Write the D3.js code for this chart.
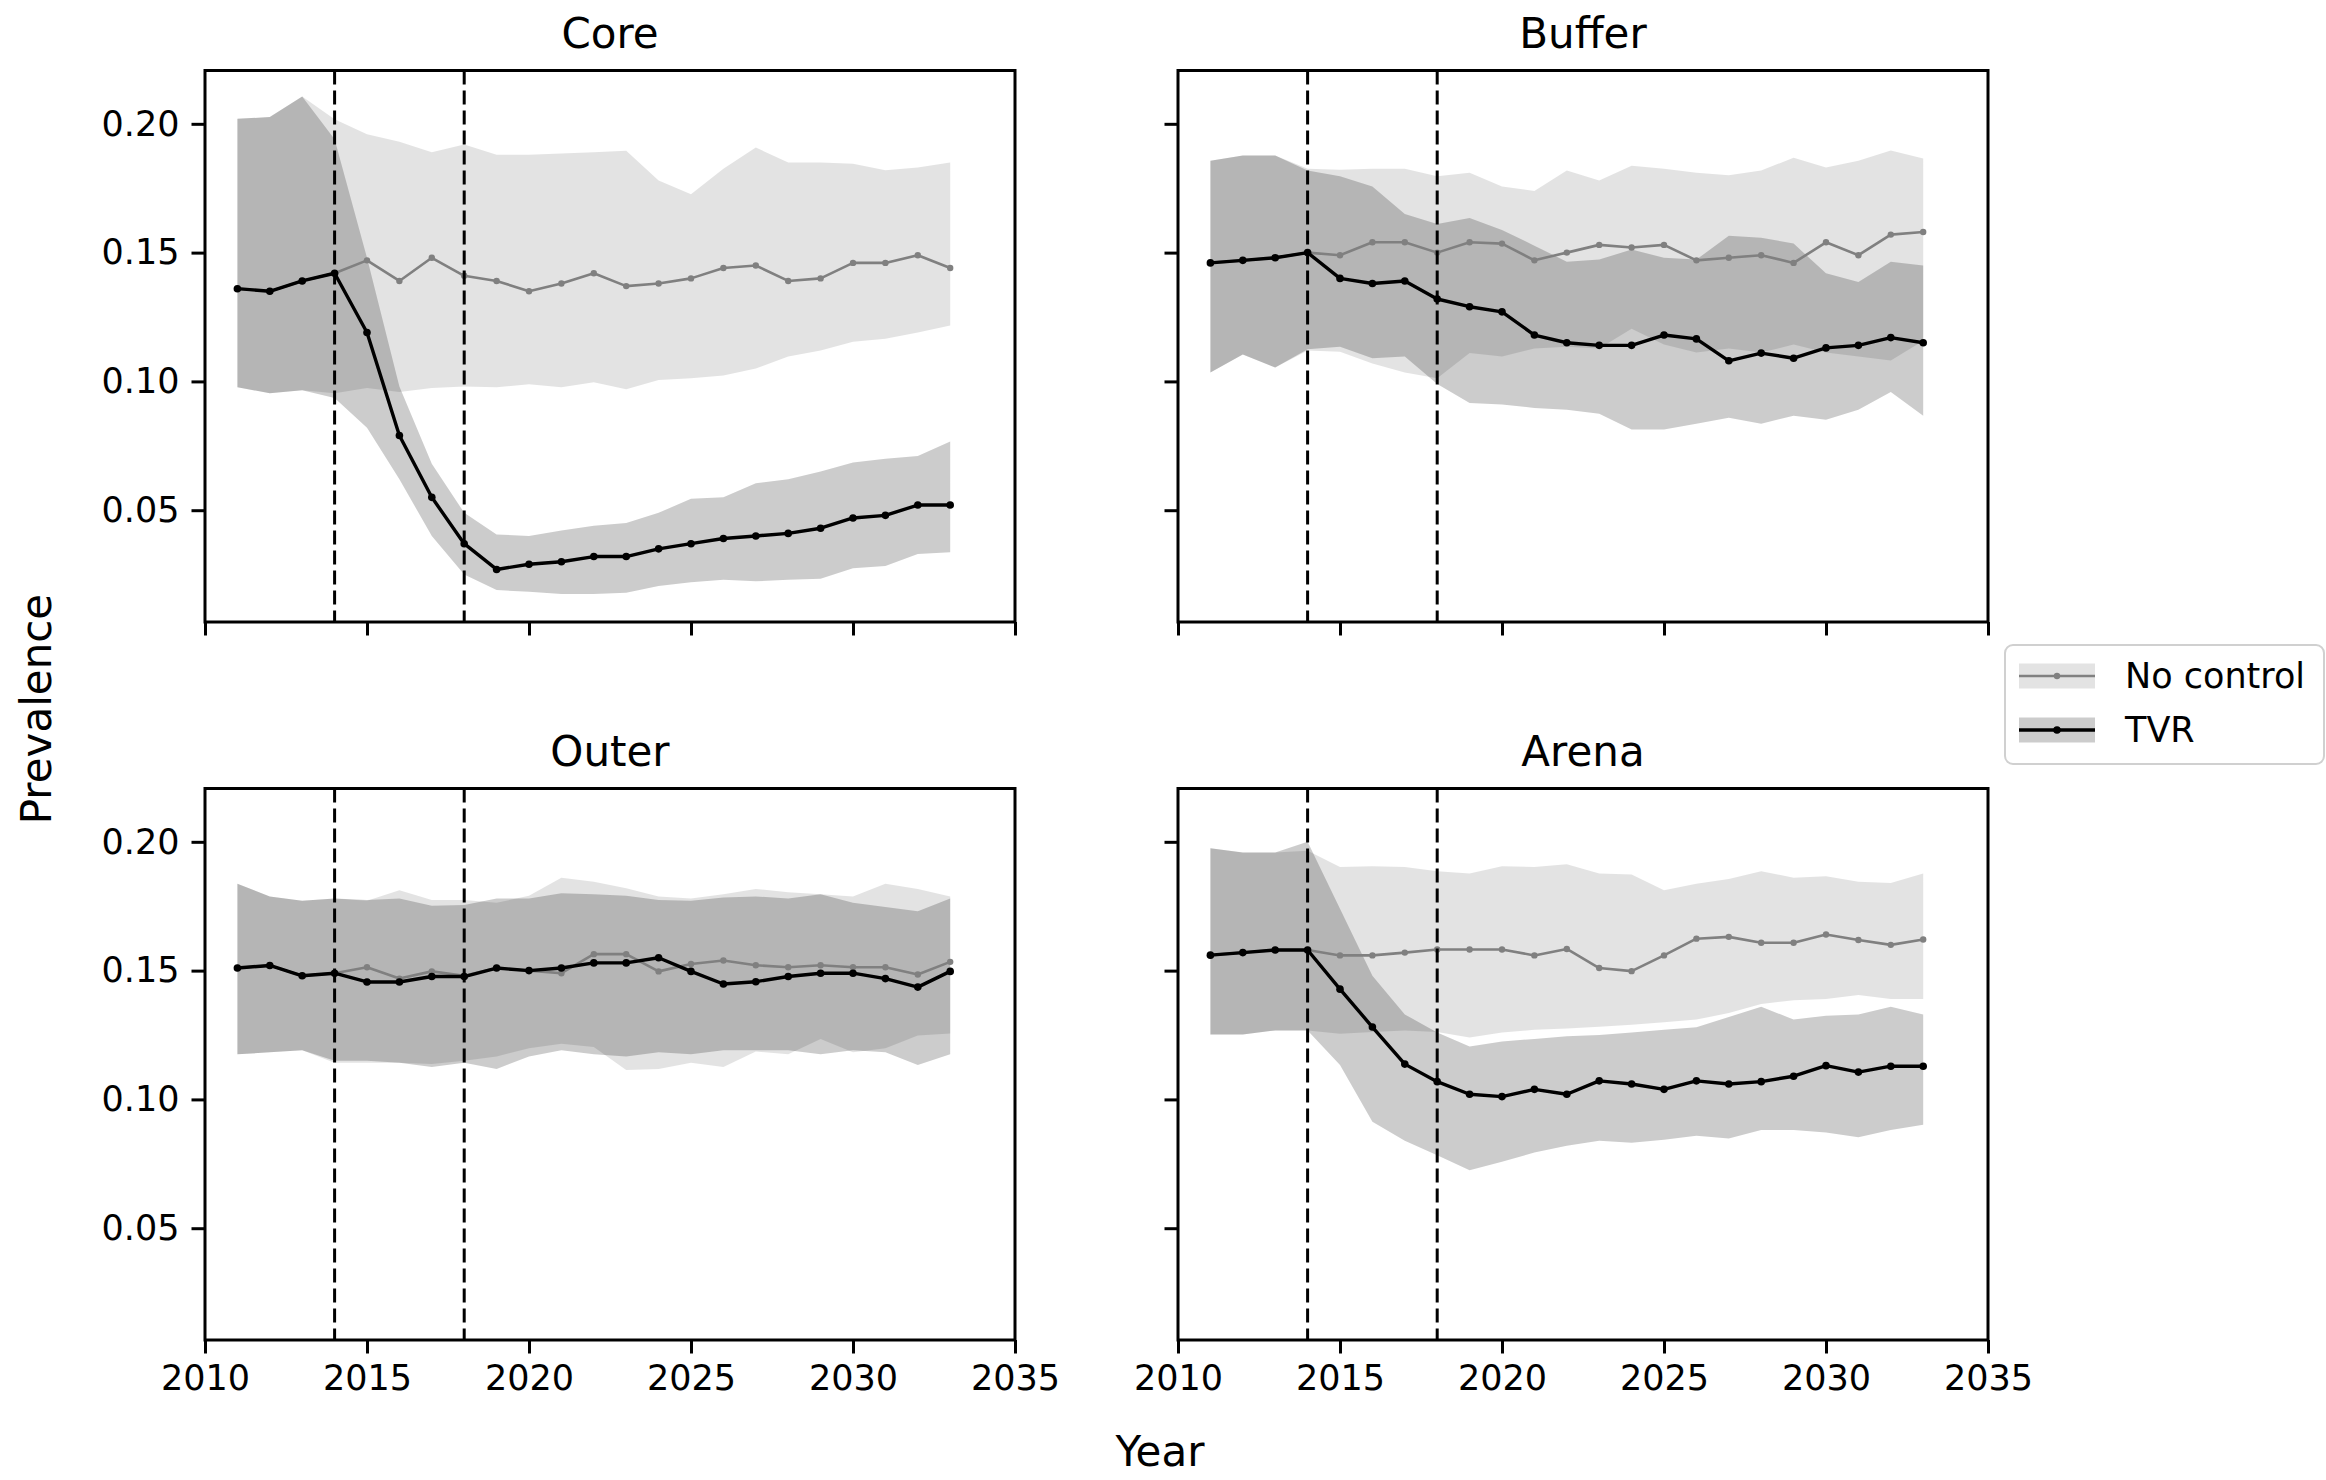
<!DOCTYPE html>
<html>
<head>
<meta charset="utf-8">
<script src="https://cdn.jsdelivr.net/npm/d3@7/dist/d3.min.js"></script>
<style>
  html, body { margin: 0; padding: 0; background: #fff; }
  svg { display: block; font-family: "DejaVu Sans", sans-serif; }
</style>
</head>
<body>
<svg id="chart" width="2326" height="1480"></svg>
<script>
// ---------------- DATA ----------------
const years = [2011,2012,2013,2014,2015,2016,2017,2018,2019,2020,2021,2022,2023,2024,2025,2026,2027,2028,2029,2030,2031,2032,2033];
const panelNames = ["Core", "Buffer", "Outer", "Arena"];
const seriesNames = ["No control", "TVR"];
const xTickValues = [2010, 2015, 2020, 2025, 2030, 2035];
const yTickValues = [0.05, 0.10, 0.15, 0.20];
const interventionYears = [2014, 2018];

// Core
const coreNC    = [0.136,0.135,0.139,0.142,0.147,0.139,0.148,0.141,0.139,0.135,0.138,0.142,0.137,0.138,0.140,0.144,0.145,0.139,0.140,0.146,0.146,0.149,0.144];
const coreNCLo  = [0.0977,0.0954,0.0966,0.0954,0.0974,0.0959,0.0974,0.098,0.0977,0.0989,0.0977,0.0997,0.097,0.1005,0.1012,0.1023,0.105,0.1097,0.112,0.1154,0.1166,0.119,0.1217];
const coreNCHi  = [0.202,0.2026,0.2106,0.2018,0.196,0.193,0.189,0.192,0.188,0.188,0.1885,0.189,0.1895,0.178,0.1727,0.1826,0.1908,0.185,0.185,0.1845,0.182,0.183,0.185];
const coreTVR   = [0.136,0.135,0.139,0.142,0.119,0.079,0.055,0.037,0.027,0.029,0.030,0.032,0.032,0.035,0.037,0.039,0.040,0.041,0.043,0.047,0.048,0.052,0.052];
const coreTVRLo = [0.0977,0.0954,0.0966,0.0936,0.082,0.062,0.040,0.025,0.019,0.0183,0.0175,0.0175,0.018,0.0206,0.022,0.023,0.0224,0.023,0.0234,0.0275,0.0283,0.033,0.0337];
const coreTVRHi = [0.202,0.2026,0.2106,0.194,0.148,0.098,0.068,0.049,0.0406,0.040,0.0421,0.044,0.045,0.049,0.0544,0.055,0.0605,0.062,0.065,0.0685,0.070,0.071,0.0767];

// Buffer
const bufferNC    = [0.146,0.147,0.148,0.150,0.149,0.154,0.154,0.150,0.154,0.1535,0.147,0.150,0.153,0.152,0.153,0.147,0.148,0.149,0.146,0.154,0.149,0.157,0.158];
const bufferNCLo  = [0.1035,0.1104,0.1054,0.112,0.1115,0.107,0.1035,0.1012,0.111,0.1097,0.1128,0.1135,0.1128,0.1204,0.1143,0.1112,0.1128,0.1112,0.1143,0.1112,0.1097,0.1081,0.1158];
const bufferNCHi  = [0.1857,0.1877,0.1877,0.1826,0.1822,0.1826,0.1826,0.1796,0.181,0.1757,0.1739,0.1819,0.178,0.1837,0.1826,0.181,0.180,0.1819,0.1868,0.183,0.1857,0.1896,0.1865];
const bufferTVR   = [0.146,0.147,0.148,0.150,0.140,0.138,0.139,0.132,0.129,0.127,0.118,0.115,0.114,0.114,0.118,0.1165,0.108,0.111,0.109,0.113,0.114,0.117,0.115];
const bufferTVRLo = [0.1035,0.1104,0.1054,0.1125,0.1135,0.109,0.1097,0.099,0.0916,0.091,0.0897,0.089,0.0874,0.0813,0.0813,0.0836,0.0859,0.0836,0.0867,0.0851,0.089,0.0959,0.0867];
const bufferTVRHi = [0.1857,0.1877,0.1877,0.1819,0.1796,0.1757,0.165,0.1611,0.1634,0.1588,0.1527,0.1465,0.1473,0.1512,0.148,0.1473,0.1565,0.1558,0.1535,0.142,0.1386,0.1465,0.145];

// Outer
const outerNC    = [0.151,0.152,0.148,0.149,0.1513,0.1469,0.1497,0.148,0.151,0.150,0.149,0.1564,0.1564,0.1497,0.1526,0.1539,0.1521,0.1513,0.1521,0.1513,0.1513,0.1485,0.1534];
const outerNCLo  = [0.1175,0.1183,0.1191,0.1142,0.1142,0.1142,0.1137,0.115,0.1167,0.1199,0.1216,0.1203,0.1114,0.1118,0.1142,0.1126,0.1186,0.1175,0.1235,0.1183,0.1199,0.1248,0.1256];
const outerNCHi  = [0.1837,0.1788,0.1771,0.178,0.1771,0.1812,0.1774,0.1774,0.1763,0.1791,0.1861,0.1845,0.182,0.1788,0.178,0.1796,0.1817,0.1804,0.1796,0.1788,0.1837,0.1817,0.1788];
const outerTVR   = [0.151,0.152,0.148,0.149,0.1456,0.1456,0.1477,0.1477,0.151,0.150,0.151,0.153,0.153,0.155,0.1497,0.1448,0.1457,0.1477,0.149,0.149,0.1469,0.1436,0.1497];
const outerTVRLo = [0.1175,0.1183,0.1191,0.115,0.115,0.1142,0.1126,0.1142,0.1118,0.1167,0.1191,0.1175,0.1167,0.1183,0.1175,0.1191,0.1191,0.1191,0.1175,0.1191,0.1183,0.1134,0.1175];
const outerTVRHi = [0.1837,0.1788,0.1771,0.178,0.1774,0.178,0.1752,0.1755,0.178,0.178,0.180,0.1796,0.1791,0.1774,0.1771,0.1784,0.1788,0.178,0.1796,0.1763,0.1747,0.173,0.178];

// Arena
const arenaNC    = [0.156,0.157,0.158,0.158,0.1559,0.1559,0.157,0.1582,0.1582,0.1582,0.1559,0.1584,0.151,0.1498,0.1559,0.1624,0.1631,0.1608,0.1608,0.164,0.1619,0.160,0.1621];
const arenaNCLo  = [0.1252,0.1252,0.1268,0.1268,0.1255,0.1262,0.1268,0.1262,0.124,0.126,0.127,0.1275,0.1282,0.129,0.130,0.131,0.1335,0.137,0.1385,0.139,0.1405,0.139,0.139];
const arenaNCHi  = [0.1975,0.1959,0.1959,0.1965,0.1902,0.1905,0.1902,0.1886,0.1877,0.1905,0.1902,0.1913,0.1877,0.1873,0.1812,0.1837,0.1856,0.1886,0.1861,0.1866,0.1845,0.184,0.1877];
const arenaTVR   = [0.156,0.157,0.158,0.158,0.1428,0.1281,0.1137,0.1069,0.102,0.1011,0.1039,0.102,0.1072,0.106,0.1039,0.1072,0.106,0.1069,0.109,0.1131,0.1106,0.1129,0.1129];
const arenaTVRLo = [0.1252,0.1252,0.1268,0.1268,0.1134,0.0913,0.084,0.0783,0.0725,0.0758,0.0794,0.082,0.084,0.0832,0.0843,0.0859,0.0848,0.0881,0.0881,0.0872,0.0853,0.0881,0.0902];
const arenaTVRHi = [0.1975,0.1959,0.1959,0.200,0.174,0.148,0.133,0.126,0.1205,0.1225,0.1235,0.1245,0.125,0.126,0.127,0.128,0.132,0.136,0.131,0.1325,0.133,0.136,0.133];

// ---------------- BUILD ----------------
const panelData = {
  Core:   { nc: [coreNC, coreNCLo, coreNCHi],       tvr: [coreTVR, coreTVRLo, coreTVRHi] },
  Buffer: { nc: [bufferNC, bufferNCLo, bufferNCHi], tvr: [bufferTVR, bufferTVRLo, bufferTVRHi] },
  Outer:  { nc: [outerNC, outerNCLo, outerNCHi],    tvr: [outerTVR, outerTVRLo, outerTVRHi] },
  Arena:  { nc: [arenaNC, arenaNCLo, arenaNCHi],    tvr: [arenaTVR, arenaTVRLo, arenaTVRHi] }
};

const style = {
  nc:  { fill: "rgba(128,128,128,0.22)", line: "#808080", lw: 2.6, r: 3.2 },
  tvr: { fill: "rgba(0,0,0,0.2)",        line: "#000000", lw: 3.4, r: 3.8 }
};

const svg = d3.select("#chart");
svg.append("rect").attr("width", 2326).attr("height", 1480).attr("fill", "#fff");

const W = 810, H = 551.5;
const layout = [
  { name: "Core",   x: 205,  y: 70.5,  xLabels: false, yLabels: true },
  { name: "Buffer", x: 1178, y: 70.5,  xLabels: false, yLabels: false },
  { name: "Outer",  x: 205,  y: 788.5, xLabels: true,  yLabels: true },
  { name: "Arena",  x: 1178, y: 788.5, xLabels: true,  yLabels: false }
];

const x = d3.scaleLinear().domain([2010, 2035]).range([0, W]);
const y = d3.scaleLinear().domain([0.0066, 0.2207]).range([H, 0]);

const tickFont = 35, labelFont = 42;

layout.forEach(p => {
  const g = svg.append("g").attr("transform", `translate(${p.x},${p.y})`);
  const d = panelData[p.name];

  const toPts = (arr) => years.map((yr, i) => ({ yr, m: arr[0][i], lo: arr[1][i], hi: arr[2][i] }));
  const ncPts = toPts(d.nc), tvrPts = toPts(d.tvr);

  const area = d3.area().x(q => x(q.yr)).y0(q => y(q.lo)).y1(q => y(q.hi));
  const line = d3.line().x(q => x(q.yr)).y(q => y(q.m));

  g.append("path").datum(ncPts).attr("d", area).attr("fill", style.nc.fill);
  g.append("path").datum(tvrPts).attr("d", area).attr("fill", style.tvr.fill);

  [["nc", ncPts], ["tvr", tvrPts]].forEach(([k, pts]) => {
    g.append("path").datum(pts).attr("d", line)
      .attr("fill", "none").attr("stroke", style[k].line)
      .attr("stroke-width", style[k].lw).attr("stroke-linejoin", "round");
    g.selectAll(null).data(pts).enter().append("circle")
      .attr("cx", q => x(q.yr)).attr("cy", q => y(q.m)).attr("r", style[k].r)
      .attr("fill", style[k].line);
  });

  // dashed intervention lines
  interventionYears.forEach(yr => {
    g.append("line").attr("x1", x(yr)).attr("x2", x(yr)).attr("y1", 0).attr("y2", H)
      .attr("stroke", "#000").attr("stroke-width", 3).attr("stroke-dasharray", "14,6");
  });

  // axes
  const xAxis = d3.axisBottom(x).tickValues(xTickValues).tickSize(13.5).tickPadding(12)
    .tickFormat(p.xLabels ? d3.format("d") : () => "");
  const gx = g.append("g").attr("transform", `translate(0,${H})`).call(xAxis);
  const yAxis = d3.axisLeft(y).tickValues(yTickValues).tickSize(13.5).tickPadding(12)
    .tickFormat(p.yLabels ? d3.format(".2f") : () => "");
  const gy = g.append("g").call(yAxis);
  [gx, gy].forEach(a => {
    a.select(".domain").remove();
    a.selectAll(".tick line").attr("stroke", "#000").attr("stroke-width", 3);
    a.selectAll(".tick text").attr("fill", "#000").style("font-size", tickFont + "px")
      .style("font-family", "DejaVu Sans");
  });

  // frame
  g.append("rect").attr("x", 0).attr("y", 0).attr("width", W).attr("height", H)
    .attr("fill", "none").attr("stroke", "#000").attr("stroke-width", 3);

  // title
  g.append("text").attr("x", W / 2).attr("y", -23).attr("text-anchor", "middle")
    .style("font-size", labelFont + "px").attr("fill", "#000").text(p.name);
});

// axis labels
svg.append("text").attr("x", 1160).attr("y", 1466).attr("text-anchor", "middle")
  .style("font-size", labelFont + "px").text("Year");
svg.append("text").attr("transform", "translate(36,709) rotate(-90)").attr("text-anchor", "middle")
  .attr("dominant-baseline", "central").style("font-size", labelFont + "px").text("Prevalence");

// legend
const lg = svg.append("g");
lg.append("rect").attr("x", 2005).attr("y", 645).attr("width", 319).attr("height", 119).attr("rx", 8)
  .attr("fill", "rgba(255,255,255,0.8)").attr("stroke", "#d0d0d0").attr("stroke-width", 2);
const legendItems = [
  { name: seriesNames[0], k: "nc", cy: 676 },
  { name: seriesNames[1], k: "tvr", cy: 730 }
];
legendItems.forEach(it => {
  lg.append("rect").attr("x", 2019).attr("y", it.cy - 12.5).attr("width", 76).attr("height", 25)
    .attr("fill", style[it.k].fill);
  lg.append("line").attr("x1", 2019).attr("x2", 2095).attr("y1", it.cy).attr("y2", it.cy)
    .attr("stroke", style[it.k].line).attr("stroke-width", style[it.k].lw);
  lg.append("circle").attr("cx", 2057).attr("cy", it.cy).attr("r", style[it.k].r).attr("fill", style[it.k].line);
  lg.append("text").attr("x", 2125).attr("y", it.cy).attr("dominant-baseline", "central")
    .style("font-size", tickFont + "px").text(it.name);
});
</script>
</body>
</html>
